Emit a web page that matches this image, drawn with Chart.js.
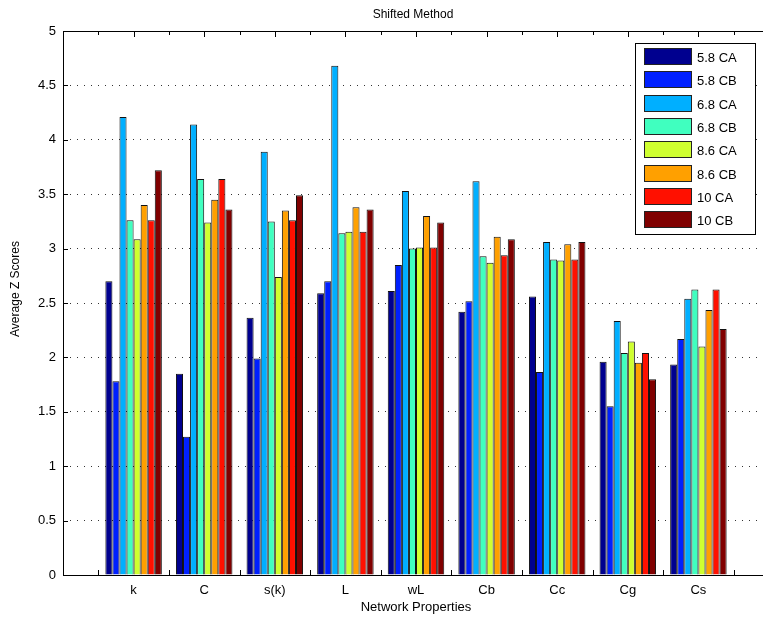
<!DOCTYPE html>
<html>
<head>
<meta charset="utf-8">
<title>Shifted Method</title>
<script src="https://cdn.jsdelivr.net/npm/chart.js@4.4.1/dist/chart.umd.min.js"></script>
<style>
  html, body { margin: 0; padding: 0; background: #fff; overflow: hidden; }
  #chart { display: block; }
</style>
</head>
<body>
<canvas id="chart" width="780" height="623"></canvas>
<script>
// categories on the x axis
const categories = ['k', 'C', 's(k)', 'L', 'wL', 'Cb', 'Cc', 'Cg', 'Cs'];

// one array per series
const ca58 = [2.70, 1.85, 2.365, 2.59, 2.61, 2.42, 2.56, 1.96, 1.935];
const cb58 = [1.78, 1.27, 1.99, 2.70, 2.85, 2.515, 1.865, 1.55, 2.17];
const ca68 = [4.21, 4.14, 3.89, 4.68, 3.53, 3.62, 3.06, 2.335, 2.54];
const cb68 = [3.26, 3.64, 3.25, 3.14, 3.00, 2.93, 2.90, 2.04, 2.625];
const ca86 = [3.085, 3.24, 2.74, 3.155, 3.01, 2.87, 2.89, 2.145, 2.10];
const cb86 = [3.40, 3.45, 3.35, 3.38, 3.30, 3.11, 3.04, 1.95, 2.435];
const ca10 = [3.26, 3.64, 3.26, 3.155, 3.01, 2.94, 2.90, 2.04, 2.625];
const cb10 = [3.72, 3.36, 3.49, 3.36, 3.24, 3.085, 3.06, 1.80, 2.26];

const seriesNames = ['5.8 CA', '5.8 CB', '6.8 CA', '6.8 CB', '8.6 CA', '8.6 CB', '10 CA', '10 CB'];
const seriesValues = [ca58, cb58, ca68, cb68, ca86, cb86, ca10, cb10];
const seriesColors = ['#00008f', '#0020ff', '#00afff', '#40ffbf', '#cfff30', '#ffa000', '#ff1000', '#800000'];

const yTicks = [0, 0.5, 1, 1.5, 2, 2.5, 3, 3.5, 4, 4.5, 5];

const FONT = '"Liberation Sans", Arial, Helvetica, sans-serif';

// matlab axis runs 0..10, so pad the category list with empty slots at both ends
const labels = [''].concat(categories, ['']);

const chartData = {
  labels: labels,
  datasets: []
};

seriesNames.forEach(function (name, i) {
  chartData.datasets.push({
    label: name,
    data: [null].concat(seriesValues[i], [null]),
    backgroundColor: seriesColors[i],
    borderColor: '#111',
    borderWidth: 1,
    categoryPercentage: 0.8,
    barPercentage: 1.0
  });
});

// box + inward tick marks, drawn under the bars like matlab does
const matlabAxes = {
  id: 'matlabAxes',
  beforeDatasetsDraw(chart) {
    const ctx = chart.ctx;
    const a = chart.chartArea;
    const xs = chart.scales.x;
    const ys = chart.scales.y;
    ctx.save();
    ctx.strokeStyle = '#000';
    ctx.lineWidth = 1;
    ctx.beginPath();
    // top ticks every half unit, bottom ticks between groups
    for (let v = 0.5; v < labels.length - 1; v += 0.5) {
      const px = Math.round(xs.getPixelForValue(v)) + 0.5;
      const len = (v % 1 === 0) ? 6 : 4;
      ctx.moveTo(px, a.top);
      ctx.lineTo(px, a.top + len);
      if (v % 1 !== 0) {
        ctx.moveTo(px, a.bottom);
        ctx.lineTo(px, a.bottom - 5);
      }
    }
    yTicks.forEach(function (t) {
      const py = Math.round(ys.getPixelForValue(t)) + 0.5;
      ctx.moveTo(a.left, py);
      ctx.lineTo(a.left + 5, py);
    });
    ctx.stroke();
    ctx.strokeRect(Math.round(a.left) + 0.5, Math.round(a.top) + 0.5,
      Math.round(a.right - a.left), Math.round(a.bottom - a.top));
    ctx.restore();
  },
  afterDraw(chart) {
    const ctx = chart.ctx;
    const a = chart.chartArea;
    ctx.save();
    ctx.fillStyle = '#000';
    ctx.font = '12px ' + FONT;
    ctx.textAlign = 'center';
    ctx.textBaseline = 'middle';
    ctx.fillText('Shifted Method', (a.left + a.right) / 2 - 3, 15);
    // y label sits a bit above the middle in the original
    ctx.translate(16, 289);
    ctx.rotate(-Math.PI / 2);
    ctx.fillText('Average Z Scores', 0, 0);
    ctx.restore();
  }
};

// legend box in the top right corner of the axes
const legendBox = {
  id: 'legendBox',
  afterDraw(chart) {
    const ctx = chart.ctx;
    const bx = 635, by = 43, bw = 120, bh = 191;
    const rowH = 23.3;
    ctx.save();
    ctx.fillStyle = '#fff';
    ctx.fillRect(bx, by, bw, bh);
    ctx.strokeStyle = '#000';
    ctx.lineWidth = 1;
    ctx.strokeRect(bx + 0.5, by + 0.5, bw, bh);
    ctx.font = '13px ' + FONT;
    ctx.textBaseline = 'middle';
    ctx.textAlign = 'left';
    chart.data.datasets.forEach(function (ds, i) {
      const sy = Math.round(by + 5 + i * rowH);
      ctx.fillStyle = ds.backgroundColor;
      ctx.fillRect(bx + 9, sy, 48, 17);
      ctx.strokeStyle = '#222';
      ctx.strokeRect(bx + 9.5, sy + 0.5, 47, 16);
      ctx.fillStyle = '#000';
      ctx.fillText(ds.label, bx + 62, sy + 10);
    });
    ctx.restore();
  }
};

const ctx = document.getElementById('chart').getContext('2d');
new Chart(ctx, {
  type: 'bar',
  data: chartData,
  plugins: [matlabAxes, legendBox],
  options: {
    responsive: false,
    animation: false,
    devicePixelRatio: 1,
    layout: {
      padding: { left: 0, top: 31, right: 11, bottom: 0 }
    },
    plugins: {
      legend: { display: false },
      title: { display: false },
      tooltip: { enabled: false }
    },
    scales: {
      x: {
        offset: false,
        grid: { display: false, drawTicks: false },
        border: { display: false },
        ticks: {
          autoSkip: false,
          maxRotation: 0,
          padding: 8,
          color: '#000',
          font: { family: FONT, size: 13 }
        },
        title: {
          display: true,
          text: 'Network Properties',
          color: '#000',
          font: { family: FONT, size: 13 },
          padding: { top: 8, bottom: 8 }
        },
        afterFit: function (scale) { scale.height = 48; }
      },
      y: {
        min: 0,
        max: 5,
        afterBuildTicks: function (scale) {
          scale.ticks = yTicks.map(function (v) { return { value: v }; });
        },
        grid: {
          color: '#333',
          lineWidth: 1,
          drawTicks: false
        },
        border: { display: false, dash: [1, 6] },
        ticks: {
          padding: 7,
          color: '#000',
          font: { family: FONT, size: 13 },
          callback: function (v) { return String(v); }
        },
        afterFit: function (scale) { scale.width = 63; }
      }
    }
  }
});
</script>
</body>
</html>
